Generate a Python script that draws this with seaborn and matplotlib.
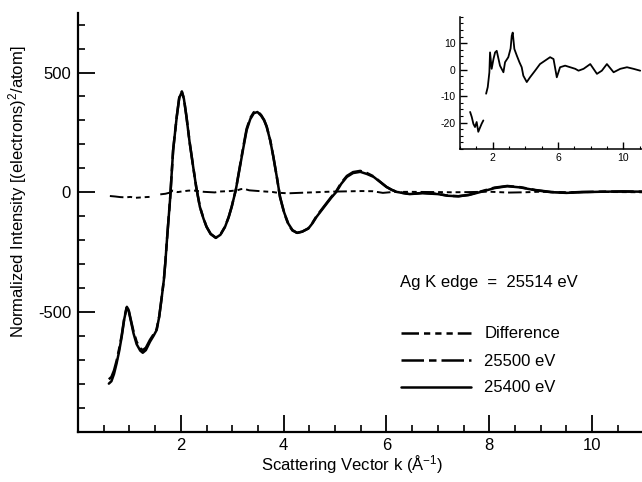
import matplotlib
matplotlib.use("Agg")
import matplotlib.pyplot as plt
import numpy as np
import pandas as pd
import seaborn as sns
from matplotlib.lines import Line2D
from matplotlib.ticker import MultipleLocator, FixedLocator

# ---------------- data ----------------
k_main = [0.60, 0.65, 0.70, 0.75, 0.80, 0.85, 0.90, 0.95, 0.98, 1.02, 1.08, 1.14,
          1.21, 1.26, 1.32, 1.40, 1.47, 1.53, 1.58, 1.63, 1.67, 1.70, 1.73, 1.76,
          1.79, 1.85, 1.92, 1.97, 2.02, 2.06, 2.11, 2.17, 2.24, 2.30, 2.37, 2.44,
          2.50, 2.58, 2.68, 2.77, 2.86, 2.93, 2.99, 3.07, 3.15, 3.22, 3.28, 3.35,
          3.42, 3.49, 3.56, 3.62, 3.67, 3.74, 3.80, 3.87, 3.93, 4.01, 4.09, 4.17,
          4.26, 4.36, 4.48, 4.56, 4.64, 4.74, 4.84, 4.93, 5.02, 5.12, 5.23, 5.35,
          5.49, 5.62, 5.75, 5.88, 6.00, 6.10, 6.20, 6.45, 6.70, 7.00, 7.20, 7.40,
          7.60, 7.85, 8.10, 8.35, 8.60, 8.90, 9.20, 9.50, 9.80, 10.20, 10.60, 11.00]

i_25400 = [-800, -790, -760, -716, -665, -604, -530, -479, -490, -530, -590, -635,
           -662, -671, -660, -625, -600, -576, -520, -437, -367, -290, -200, -115,
           -33, 175, 314, 395, 419, 390, 314, 210, 106, 20, -61, -110,
           -145, -175, -191, -178, -145, -105, -61, 10, 106, 190, 259, 305,
           330, 335, 320, 300, 273, 215, 147, 60, -20, -85, -131, -158,
           -170, -165, -152, -130, -103, -75, -47, -22, 0, 35, 64, 80,
           85, 76, 64, 42, 22, 10, 1, -8, -4, -8, -15, -17,
           -12, 2, 17, 25, 20, 8, 0, -3, 0, 2, 3, 2]

i_25500 = [-782, -772, -745, -705, -655, -598, -526, -477, -487, -526, -582, -625,
           -652, -660, -650, -617, -594, -572, -518, -436, -366, -290, -200, -115,
           -33, 175, 315, 397, 421, 392, 316, 211, 107, 21, -60, -109,
           -144, -174, -190, -177, -144, -104, -60, 11, 110, 196, 265, 310,
           334, 338, 323, 302, 275, 216, 148, 60, -21, -87, -134, -160,
           -170, -165, -151, -128, -100, -72, -44, -19, 3, 39, 68, 84,
           89, 80, 66, 43, 22, 10, 1, -8, -3, -7, -15, -17,
           -11, 4, 19, 26, 21, 9, 1, -2, 1, 2, 3, 2]

k_diff = [0.62, 0.72, 0.82, 0.92, 1.02, 1.12, 1.22, 1.33, 1.43,
          1.60, 1.70, 1.80, 1.84, 1.94, 2.05, 2.15, 2.25, 2.45, 2.66, 2.76, 2.96,
          3.10, 3.17, 3.23, 3.33, 3.48, 3.64, 3.78, 3.88, 4.09, 4.29, 4.60, 4.90,
          5.21, 5.52, 5.73, 5.93, 6.13, 6.44, 6.75, 7.06, 7.26, 7.57, 7.98, 8.39,
          8.69, 9.00, 9.41, 9.82, 10.23, 10.63, 11.04]
i_diff = [-16.0, -17.9, -20.5, -21.7, -19.8, -23.5, -22.0, -20.4, -19.2,
          -9.1, -6.6, -1.0, 6.5, 0.3, 4.0, 6.5, 7.1, 1.5, -1.0, 2.8, 4.7,
          8.0, 12.8, 14.0, 7.8, 5.3, 2.8, 0.9, -2.3, -4.7, -2.9, -0.4, 2.1,
          3.4, 4.7, 4.0, -2.9, 0.9, 1.5, 0.9, 0.3, -0.4, 0.3, 2.1, -1.6,
          -0.4, 2.1, -1.0, 0.3, 0.9, 0.3, -0.4]
seg_diff = [0] * 9 + [1] * 43

legend_labels = ["Difference", "25500 eV", "25400 eV"]
edge_text = "Ag K edge  =  25514 eV"

# ---------------- style ----------------
sns.set_style("ticks")
plt.rcParams["font.family"] = ["Liberation Sans", "DejaVu Sans"]
plt.rcParams["mathtext.fontset"] = "custom"
plt.rcParams["mathtext.rm"] = "Liberation Sans"
plt.rcParams["mathtext.it"] = "Liberation Sans"
plt.rcParams["mathtext.default"] = "regular"
plt.rcParams["axes.unicode_minus"] = False
plt.rcParams["text.color"] = "black"
plt.rcParams["axes.labelcolor"] = "black"

W, H = 642, 482
fig = plt.figure(figsize=(W / 100, H / 100), dpi=100)
fig.patch.set_facecolor("white")

ax_bottom_px, ax_top_px = 431.5, 12.7
ax = fig.add_axes([78 / W, 1 - ax_bottom_px / H, 1 - 78 / W, (ax_bottom_px - ax_top_px) / H])

main_df = pd.DataFrame({"k": k_main, "i25400": i_25400, "i25500": i_25500})
diff_df = pd.DataFrame({"k": k_diff, "v": i_diff, "seg": seg_diff})

dash_diff = (7, 2, 2.5, 2, 2.5, 2, 2.5, 2)
dash_500 = (9, 2, 3, 2)

sns.lineplot(data=diff_df, x="k", y="v", units="seg", estimator=None,
             color="black", linewidth=1.4, ax=ax)
for ln in ax.lines:
    ln.set_dashes(dash_diff)
sns.lineplot(data=main_df, x="k", y="i25500", color="black", linewidth=1.8,
             estimator=None, ax=ax)
ax.lines[-1].set_dashes(dash_500)
sns.lineplot(data=main_df, x="k", y="i25400", color="black", linewidth=1.8,
             estimator=None, ax=ax)

ax.set_xlim(0, 10.97)
ax.set_ylim(-1000, 750)
ax.xaxis.set_major_locator(FixedLocator([2, 4, 6, 8, 10]))
ax.xaxis.set_minor_locator(MultipleLocator(0.5))
ax.yaxis.set_major_locator(FixedLocator([-500, 0, 500]))
ax.yaxis.set_minor_locator(MultipleLocator(100))
ax.tick_params(which="major", direction="in", length=12, width=1.3,
               labelsize=12, pad=5, color="black", labelcolor="black")
ax.tick_params(which="minor", direction="in", length=5, width=1.2, color="black")
for s in ["top", "right"]:
    ax.spines[s].set_visible(False)
for s in ["left", "bottom"]:
    ax.spines[s].set_linewidth(1.6)
    ax.spines[s].set_color("black")

ax.set_xlabel("Scattering Vector k (Å$^{-1}$)", fontsize=12, color="black")
ax.set_ylabel("Normalized Intensity [(electrons)$^2$/atom]", fontsize=12, color="black")
ax_h = ax_bottom_px - ax_top_px
ax.xaxis.set_label_coords((352 - 78) / (W - 78), -(453 - ax_bottom_px) / ax_h)
ax.yaxis.set_label_coords((29 - 78) / (W - 78), (ax_bottom_px - 192) / ax_h)

handles = [Line2D([], [], color="black", linewidth=1.8, dashes=dash_diff),
           Line2D([], [], color="black", linewidth=1.8, dashes=dash_500),
           Line2D([], [], color="black", linewidth=1.8)]
leg = ax.legend(handles, legend_labels, loc="center left", frameon=False,
                bbox_to_anchor=(401 / W, 1 - 361 / H), bbox_transform=fig.transFigure,
                borderpad=0, borderaxespad=0, handlelength=4.2, handletextpad=0.8,
                labelspacing=0.72, fontsize=12, labelcolor="black")

fig.text(400 / W, 1 - 283 / H, edge_text, fontsize=12, ha="left", va="center",
         color="black")

# ---------------- inset ----------------
ax2 = fig.add_axes([460 / W, 1 - 149 / H, 182 / W, (149 - 16.7) / H])
sns.lineplot(data=diff_df, x="k", y="v", units="seg", estimator=None,
             color="black", linewidth=1.3, ax=ax2)
ax2.set_xlim(0, 11.15)
ax2.set_ylim(-30, 20)
ax2.xaxis.set_major_locator(FixedLocator([2, 6, 10]))
ax2.xaxis.set_minor_locator(MultipleLocator(1))
ax2.yaxis.set_major_locator(FixedLocator([-20, -10, 0, 10]))
ax2.yaxis.set_minor_locator(MultipleLocator(2.5))
ax2.tick_params(which="major", direction="in", length=5, width=1.0,
                labelsize=7.5, pad=3, color="black", labelcolor="black")
ax2.tick_params(which="minor", direction="in", length=2.5, width=0.8, color="black")
ax2.set_xlabel("")
ax2.set_ylabel("")
ax2.patch.set_alpha(0)
for s in ["top", "right"]:
    ax2.spines[s].set_visible(False)
for s in ["left", "bottom"]:
    ax2.spines[s].set_linewidth(1.1)
    ax2.spines[s].set_color("black")

fig.savefig("out.png", dpi=100, facecolor="white")
